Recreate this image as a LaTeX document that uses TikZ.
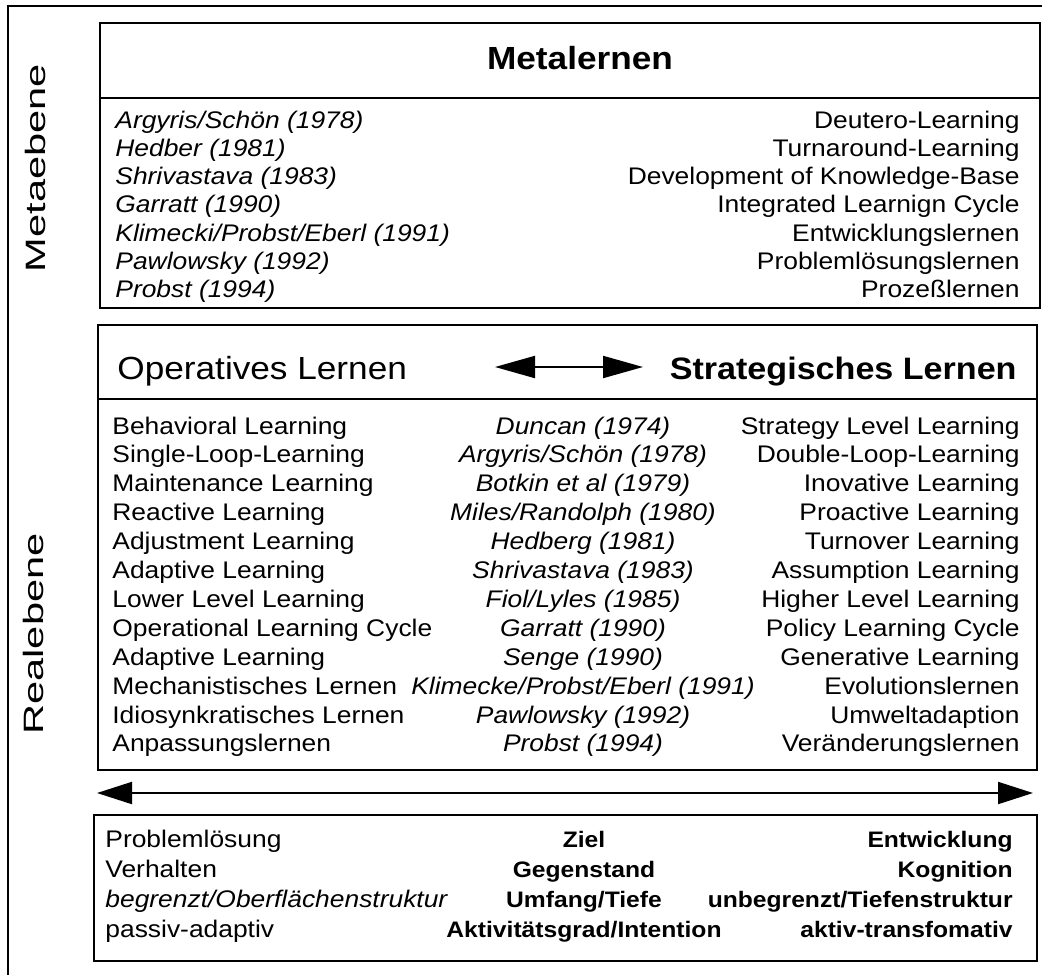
\documentclass[tikz,border=0pt]{standalone}
\usepackage{fontspec}
\setmainfont{Liberation Sans}[FakeStretch=1.1]
\usetikzlibrary{arrows.meta}

\begin{document}
\begin{tikzpicture}[
	                   x = 0.5pt,
	                   y = -0.5pt,
	   every node/.style = {inner sep=0pt, font=\fontsize{12}{14}\selectfont},
	        frame/.style = {line width=1.4pt},
	        title/.style = {font=\fontsize{16}{19}\selectfont},
	         cite/.style = {font=\fontsize{12}{14}\selectfont\itshape},
	         bold/.style = {font=\fontsize{11.2}{14}\selectfont\bfseries},
	        level/.style = {rotate=90, font=\fontsize{14}{17}\selectfont},
	       twoway/.style = {line width=1pt, {Triangle[length=20pt,width=11pt]}-{Triangle[length=20pt,width=11pt]}},
	    axisarrow/.style = {line width=1pt, {Triangle[length=17.5pt,width=11pt]}-{Triangle[length=17.5pt,width=11pt]}},
	                     ]
	\useasboundingbox (0,0) rectangle (1042,974);
	% outer frame, open to the right and below
	\draw[frame] (8,990) -- (8,6) -- (1060,6);
	\node[level] (metaebene) at (35,168) {\scalebox{1.35}[1]{Metaebene}};
	\node[level] (realebene) at (33,634) {\scalebox{1.35}[1]{Realebene}};

	% Metaebene
	\draw[frame] (100,23) rectangle (1040,308);
	\draw[frame] (100,98) -- (1040,98);
	\node[title, anchor=base] (meta) at (580,70) {\bfseries Metalernen};
	\foreach \a/\b [count=\i] in {{Argyris/Schön (1978)}/{Deutero-Learning},
	                              {Hedber (1981)}/{Turnaround-Learning},
	                              {Shrivastava (1983)}/{Development of Knowledge-Base},
	                              {Garratt (1990)}/{Integrated Learnign Cycle},
	                              {Klimecki/Probst/Eberl (1991)}/{Entwicklungslernen},
	                              {Pawlowsky (1992)}/{Problemlösungslernen},
	                              {Probst (1994)}/{Prozeßlernen}}
	{
		\node[cite, anchor=base west] (ma\i) at (115,{99.67+28.33*\i}) {\a};
		\node[anchor=base east] (mb\i) at (1020,{99.67+28.33*\i}) {\b};
	}

	% Realebene
	\draw[frame] (98,325) rectangle (1037,770);
	\draw[frame] (98,399) -- (1037,399);
	\node[title, anchor=base west] (oplern) at (117,379) {Operatives Lernen};
	\node[title, anchor=base east, font=\fontsize{15.5}{19}\selectfont\bfseries] (strlern) at (1017,379) {Strategisches Lernen};
	\coordinate (hl) at (495,367);
	\coordinate (hr) at (643,367);
	\draw[twoway] (hl) -- (hr);
	\foreach \a/\b/\c [count=\i] in {{Behavioral Learning}/{Duncan (1974)}/{Strategy Level Learning},
	                                 {Single-Loop-Learning}/{Argyris/Schön (1978)}/{Double-Loop-Learning},
	                                 {Maintenance Learning}/{Botkin et al (1979)}/{Inovative Learning},
	                                 {Reactive Learning}/{Miles/Randolph (1980)}/{Proactive Learning},
	                                 {Adjustment Learning}/{Hedberg (1981)}/{Turnover Learning},
	                                 {Adaptive Learning}/{Shrivastava (1983)}/{Assumption Learning},
	                                 {Lower Level Learning}/{Fiol/Lyles (1985)}/{Higher Level Learning},
	                                 {Operational Learning Cycle}/{Garratt (1990)}/{Policy Learning Cycle},
	                                 {Adaptive Learning}/{Senge (1990)}/{Generative Learning},
	                                 {Mechanistisches Lernen}/{Klimecke/Probst/Eberl (1991)}/{Evolutionslernen},
	                                 {Idiosynkratisches Lernen}/{Pawlowsky (1992)}/{Umweltadaption},
	                                 {Anpassungslernen}/{Probst (1994)}/{Veränderungslernen}}
	{
		\node[anchor=base west] (ra\i) at (112,{405.1+28.9*\i}) {\a};
		\node[cite, anchor=base] (rb\i) at (583,{405.1+28.9*\i}) {\b};
		\node[anchor=base east] (rc\i) at (1020,{405.1+28.9*\i}) {\c};
	}

	% Skala
	\coordinate (sl) at (97,793);
	\coordinate (sr) at (1033,793);
	\draw[axisarrow] (sl) -- (sr);
	\draw[frame] (94,815) rectangle (1037,961);
	\foreach \a/\b/\c [count=\i] in {{Problemlösung}/{Ziel}/{Entwicklung},
	                                 {Verhalten}/{Gegenstand}/{Kognition},
	                                 {\itshape begrenzt/Oberflächenstruktur}/{Umfang/Tiefe}/{unbegrenzt/Tiefenstruktur},
	                                 {passiv-adaptiv}/{Aktivitätsgrad/Intention}/{aktiv-transfomativ}}
	{
		\node[anchor=base west] (sa\i) at (105,{816.7+30.3*\i}) {\a};
		\node[bold, anchor=base] (sb\i) at (584,{816.7+30.3*\i}) {\b};
		\node[bold, anchor=base east] (sc\i) at (1013,{816.7+30.3*\i}) {\c};
	}
\end{tikzpicture}
\end{document}
